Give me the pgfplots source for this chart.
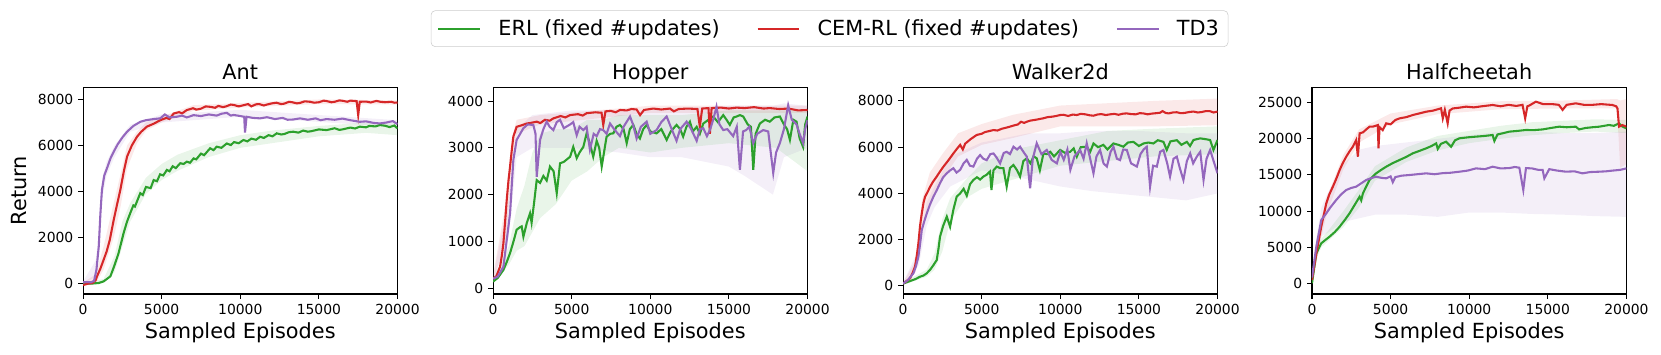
\documentclass[border=0pt]{standalone}
\usepackage{pgfplots}
\usepackage{pgfplotstable}
\pgfplotsset{compat=1.18}
\usepgfplotslibrary{fillbetween}
\usepackage{fontspec}
\setmainfont{DejaVu Sans}
\definecolor{cG}{HTML}{2CA02C}
\definecolor{cR}{HTML}{D62728}
\definecolor{cP}{HTML}{9467BD}

% bands: x lo hi
\pgfplotstableread{
x lo hi
0 -100 50
800 0 400
1300 600 1600
1950 2000 3500
2400 3400 4800
2800 5000 6000
3430 6100 6600
4000 6650 7000
5000 7000 7250
7000 7500 7750
10000 7650 7850
15000 7800 8000
20000 7780 7960
}\antR
\pgfplotstableread{
x lo hi
0 0 100
800 300 1000
1000 1200 2200
1200 3600 4500
1500 4700 5300
2000 5500 6000
3000 6600 6900
5000 7000 7350
10000 7250 7550
20000 6800 7100
}\antP
\pgfplotstableread{
x lo hi
0 0 50
1300 50 200
2000 500 1200
2500 1600 2700
3000 2700 3500
4000 3900 4600
5000 4500 5200
6000 4900 5600
8000 5500 6100
10000 5900 6450
12000 6100 6650
15000 6400 6850
18000 6550 7000
20000 6450 6950
}\antG
\pgfplotstableread{
x lo hi
0 150 280
800 1000 1800
1200 2500 3200
1500 3300 3600
3000 3500 3700
10000 3750 3900
20000 3750 3900
}\hopR
\pgfplotstableread{
x lo hi
0 150 250
1000 1100 1900
1500 2800 3400
2500 3000 3700
5000 3000 3800
8000 2900 3800
10000 2800 3800
12000 2800 3850
15000 2600 3900
16000 2400 3900
17800 2000 3900
18500 2800 3950
20000 3000 3900
}\hopP
\pgfplotstableread{
x lo hi
0 100 200
1000 500 900
1500 800 1700
2000 900 2200
2500 1200 2900
3000 1500 3300
4000 1800 3400
5000 2300 3400
6000 2500 3600
7000 2800 3600
8000 3000 3700
10000 2900 3700
12000 3000 3700
15000 3100 3800
18000 3000 3800
20000 2500 3800
}\hopG
\pgfplotstableread{
x lo hi
0 50 150
800 600 1100
1200 2500 3700
1700 3600 4900
2500 4600 5700
3500 5600 6600
5000 6100 7000
7000 6400 7400
10000 6900 7800
13000 6900 7900
16000 6900 8000
20000 6950 8100
}\walR
\pgfplotstableread{
x lo hi
0 50 150
1000 900 1600
1500 2600 3600
2000 3400 4300
3000 4300 5600
5000 5000 6200
8000 4600 6600
10000 4300 6600
12000 4100 6700
15000 3900 6700
18000 3700 6600
20000 4000 6600
}\walP
\pgfplotstableread{
x lo hi
0 50 150
1500 400 700
2000 700 1400
2500 1500 2900
3000 2800 3800
4000 3800 4600
5000 4200 5300
7000 4600 5900
10000 5200 6300
13000 5400 6700
16000 5600 6800
20000 5700 6900
}\walG
\pgfplotstableread{
x lo hi
0 0 900
300 3000 5000
600 6500 9000
1000 10000 12200
2000 15800 17800
3000 19500 21300
5000 22000 23500
8000 23400 24600
12000 24100 25200
16000 24200 25300
19400 24200 25500
19600 16000 25300
20000 16500 25500
}\hcR
\pgfplotstableread{
x lo hi
0 0 1500
300 3500 6500
600 6500 10500
1000 7000 12500
2000 8500 16500
3000 9000 18500
4000 9500 19000
6000 9500 19500
8000 9200 20000
10000 9800 20500
12000 9800 21000
14000 9600 21000
16000 9500 20800
18000 9300 20800
20000 9200 21000
}\hcP
\pgfplotstableread{
x lo hi
0 0 500
300 3500 5000
600 5000 6200
1000 5800 7200
2000 7800 10000
3000 10500 13000
4000 14200 16200
6000 16800 18800
8000 18400 20400
10000 19400 21100
12000 20000 21800
14000 20500 22300
16000 20800 22500
18000 21000 22700
20000 20800 22600
}\hcG

\pgfplotsset{
  panel/.style={
    scale only axis, width=226.4pt, height=148.7pt, anchor=south west,
    xmin=0, xmax=20000, xtick={0,5000,10000,15000,20000},
    scaled ticks=false,
    /pgf/number format/assume math mode=true,
    /pgf/number format/1000 sep={},
    tick align=outside, major tick length=3.5pt,
    every tick/.style={black, line width=0.8pt},
    axis line style={line width=0.8pt},
    tick label style={font=\fontsize{10}{12}\selectfont},
    every axis title/.style={font=\fontsize{15}{18}\selectfont, at={(0.5,1)}, anchor=base, yshift=6pt},
    xlabel={Sampled Episodes},
    xlabel style={font=\fontsize{15}{18}\selectfont, at={(axis description cs:0.5,-0.215)}, anchor=base},
    ytick pos=left, xtick pos=bottom,
  },
  band/.style={fill=#1, fill opacity=0.1, draw=none, forget plot},
  ln/.style={color=#1, line width=1.5pt},
}

\begin{document}
\begin{tikzpicture}

% ---------------- Ant ----------------
\begin{axis}[panel, at={(59.8pt,43.2pt)}, title={Ant}, ymin=-450, ymax=8520,
  ytick={0,2000,4000,6000,8000},
  ylabel={Return},
  ylabel style={font=\fontsize{15}{18}\selectfont, at={(axis description cs:-0.181,0.5)}, anchor=base},
  legend columns=3, legend cell align=left,
  legend style={at={(axis description cs:2.374,1.285)}, anchor=center,
    font=\fontsize{15}{18}\selectfont, draw=black!20, rounded corners=3pt,
    inner xsep=4.5pt, inner ysep=4.5pt,
    /tikz/every even column/.append style={column sep=24.5pt},
    /tikz/every odd column/.append style={column sep=10.5pt}},
  legend image code/.code={\draw[#1, line width=1.5pt] (0pt,0pt) -- (30pt,0pt);},
]
\addplot[draw=none, name path=aRu, forget plot] table[x=x,y=hi] {\antR};
\addplot[draw=none, name path=aRl, forget plot] table[x=x,y=lo] {\antR};
\addplot[band=cR] fill between[of=aRu and aRl];
\addplot[draw=none, name path=aPu, forget plot] table[x=x,y=hi] {\antP};
\addplot[draw=none, name path=aPl, forget plot] table[x=x,y=lo] {\antP};
\addplot[band=cP] fill between[of=aPu and aPl];
\addplot[draw=none, name path=aGu, forget plot] table[x=x,y=hi] {\antG};
\addplot[draw=none, name path=aGl, forget plot] table[x=x,y=lo] {\antG};
\addplot[band=cG] fill between[of=aGu and aGl];
\addplot[ln=cG] coordinates {(0,0)(500,0)(1000,30)(1310,100)(1740,320)(2000,800)(2260,1330)(2580,2200)(2800,2700)(3000,3060)(3200,3400)(3300,3350)(3640,3930)(3800,3850)(4000,4200)(4300,4150)(4490,4500)(4700,4450)(4900,4750)(5100,4700)(5330,4940)(5500,4880)(5700,5100)(5900,5020)(6180,5230)(6400,5200)(6600,5300)(6800,5250)(7030,5440)(7200,5400)(7500,5650)(7700,5580)(8080,5880)(8300,5800)(8500,5950)(8800,5900)(9140,6090)(9400,6020)(9600,6150)(9900,6100)(10200,6240)(10450,6180)(10700,6300)(11000,6250)(11260,6380)(11500,6330)(11800,6450)(12050,6400)(12320,6530)(12600,6480)(12800,6500)(13100,6580)(13370,6600)(13700,6560)(14000,6650)(14300,6600)(14500,6620)(15000,6700)(15490,6670)(16000,6750)(16300,6680)(16500,6700)(17000,6780)(17300,6740)(17600,6820)(18000,6790)(18200,6850)(18600,6830)(18880,6890)(19200,6860)(19500,6800)(19800,6870)(20000,6740)};
\addlegendentry{ERL (fixed \#updates)}
\addplot[ln=cR] coordinates {(0,-60)(300,0)(600,30)(800,150)(890,320)(1100,650)(1310,1040)(1500,1400)(1700,1900)(1950,2770)(2150,3400)(2370,4070)(2600,4900)(2800,5520)(3100,6000)(3430,6380)(3700,6600)(4060,6820)(4500,6950)(4910,7100)(5300,7200)(5500,7150)(5760,7390)(6100,7450)(6300,7400)(6600,7540)(7000,7620)(7200,7560)(7500,7600)(7800,7700)(8100,7680)(8400,7640)(8600,7720)(8900,7670)(9100,7700)(9400,7780)(9600,7760)(9900,7700)(10200,7750)(10500,7800)(10700,7700)(11000,7790)(11200,7800)(11500,7740)(11700,7780)(12000,7830)(12300,7860)(12600,7800)(12800,7820)(13100,7900)(13300,7880)(13600,7830)(13800,7850)(14100,7920)(14440,7900)(14700,7860)(15000,7880)(15300,7950)(15500,7930)(15800,7880)(16000,7900)(16300,7960)(16550,7940)(16800,7900)(17000,7950)(17400,7930)(17500,7320)(17600,7900)(18000,7910)(18300,7870)(18660,7940)(18900,7900)(19200,7880)(19600,7900)(19800,7860)(20000,7870)};
\addlegendentry{CEM-RL (fixed \#updates)}
\addplot[ln=cP] coordinates {(0,60)(300,70)(500,60)(700,120)(850,600)(1000,1620)(1100,3000)(1200,4070)(1350,4700)(1520,5010)(1750,5450)(1950,5730)(2200,6050)(2500,6350)(2800,6600)(3200,6850)(3640,7030)(4000,7100)(4500,7150)(4910,7180)(5200,7350)(5500,7220)(5970,7250)(6300,7300)(6600,7220)(7030,7320)(7500,7280)(8000,7350)(8500,7300)(8800,7380)(9140,7420)(9400,7300)(9570,7330)(10000,7280)(10250,7250)(10300,6560)(10400,7250)(10800,7200)(11260,7180)(11700,7230)(12200,7150)(12700,7200)(13000,7120)(13370,7130)(13800,7180)(14300,7120)(14800,7180)(15100,7100)(15490,7150)(16000,7120)(16500,7170)(17000,7100)(17600,7030)(18000,7050)(18500,6980)(18880,6960)(19300,7000)(19700,7060)(20000,6930)};
\addlegendentry{TD3}
\end{axis}

% ---------------- Hopper ----------------
\begin{axis}[panel, at={(355pt,43.2pt)}, title={Hopper}, ymin=-125, ymax=4290,
  ytick={0,1000,2000,3000,4000}]
\addplot[draw=none, name path=hRu, forget plot] table[x=x,y=hi] {\hopR};
\addplot[draw=none, name path=hRl, forget plot] table[x=x,y=lo] {\hopR};
\addplot[band=cR] fill between[of=hRu and hRl];
\addplot[draw=none, name path=hPu, forget plot] table[x=x,y=hi] {\hopP};
\addplot[draw=none, name path=hPl, forget plot] table[x=x,y=lo] {\hopP};
\addplot[band=cP] fill between[of=hPu and hPl];
\addplot[draw=none, name path=hGu, forget plot] table[x=x,y=hi] {\hopG};
\addplot[draw=none, name path=hGl, forget plot] table[x=x,y=lo] {\hopG};
\addplot[band=cG] fill between[of=hGu and hGl];
\addplot[ln=cG] coordinates {(0,140)(300,220)(657,390)(870,560)(1080,750)(1300,1000)(1500,1250)(1700,1300)(1820,1320)(1930,1100)(2150,1400)(2350,1600)(2450,1400)(2600,1800)(2775,2310)(2990,2250)(3200,2400)(3410,2300)(3620,2600)(3850,2500)(4050,2030)(4260,2670)(4500,2700)(4900,2810)(5100,3020)(5320,2780)(5500,2900)(5740,3020)(5950,3310)(6150,3100)(6370,2810)(6590,3150)(6750,3000)(6910,2600)(7220,3240)(7450,3300)(7650,3310)(7850,3450)(8070,3490)(8300,3400)(8500,3100)(8700,3400)(8920,3490)(9130,3300)(9340,3200)(9550,3400)(9770,3490)(10000,3350)(10400,3310)(10700,3400)(11040,3170)(11300,3350)(11670,3490)(11900,3400)(12090,3240)(12300,3450)(12520,3560)(12700,3350)(12950,3450)(13150,3300)(13370,3520)(13700,3600)(14000,3670)(14300,3550)(14640,3700)(14850,3600)(15060,3490)(15300,3650)(15490,3670)(15700,3700)(15910,3670)(16200,3500)(16400,3450)(16550,2530)(16700,3300)(16970,3520)(17300,3600)(17600,3560)(17900,3650)(18240,3670)(18500,3500)(18700,3400)(18880,3170)(19100,3600)(19300,3560)(19500,3200)(19720,3020)(19850,3500)(20000,3670)};
\addplot[ln=cR] coordinates {(0,210)(200,250)(445,460)(560,700)(657,960)(760,1400)(870,1890)(980,2300)(1080,2600)(1190,2950)(1290,3240)(1500,3450)(1800,3480)(2140,3520)(2500,3540)(2775,3560)(3000,3530)(3300,3600)(3600,3580)(3835,3630)(4300,3680)(4600,3650)(4900,3700)(5400,3720)(5700,3690)(5950,3740)(6500,3760)(6900,3750)(7010,3490)(7150,3780)(7500,3790)(7800,3760)(8070,3810)(8500,3800)(8800,3830)(9130,3820)(9350,3700)(9600,3810)(10190,3840)(10700,3820)(11250,3840)(11500,3780)(11800,3830)(12400,3840)(13000,3830)(13150,3450)(13300,3840)(13700,3850)(13790,3300)(13900,3850)(14500,3860)(15000,3840)(15490,3860)(16000,3850)(16600,3870)(17200,3840)(17600,3850)(18200,3830)(18800,3840)(19400,3800)(20000,3810)};
\addplot[ln=cP] coordinates {(0,200)(300,250)(657,460)(870,1030)(1080,1600)(1190,2200)(1290,2740)(1500,3170)(1930,3420)(2200,3500)(2560,3490)(2700,3300)(2775,2380)(2990,3170)(3200,3400)(3410,3560)(3600,3450)(3835,3380)(4050,3550)(4260,3600)(4500,3420)(4900,3500)(5100,3550)(5320,3270)(5500,3450)(5740,3380)(5950,3450)(6160,2960)(6400,3300)(6590,3250)(6800,3400)(7010,3380)(7220,3300)(7440,3520)(7700,3400)(8070,3250)(8300,3450)(8710,3670)(8900,3500)(9130,3200)(9400,3450)(9770,3560)(10000,3300)(10400,3380)(10700,3550)(11040,3670)(11300,3450)(11670,3150)(11900,3400)(12310,3560)(12600,3400)(12950,3150)(13150,3400)(13370,3420)(13600,3250)(13790,3380)(14000,3600)(14210,3880)(14400,3500)(14640,3380)(14900,3400)(15270,3250)(15500,3450)(15700,2530)(15900,3350)(16100,3380)(16300,3450)(16550,3100)(16800,3300)(17180,3380)(17500,3350)(17820,2460)(18000,2900)(18240,3100)(18500,3400)(18770,3910)(19000,3600)(19300,3500)(19500,3300)(19720,3100)(19850,3400)(20000,3590)};
\end{axis}

% ---------------- Walker2d ----------------
\begin{axis}[panel, at={(650.2pt,43.2pt)}, title={Walker2d}, ymin=-350, ymax=8580,
  ytick={0,2000,4000,6000,8000}]
\addplot[draw=none, name path=wRu, forget plot] table[x=x,y=hi] {\walR};
\addplot[draw=none, name path=wRl, forget plot] table[x=x,y=lo] {\walR};
\addplot[band=cR] fill between[of=wRu and wRl];
\addplot[draw=none, name path=wPu, forget plot] table[x=x,y=hi] {\walP};
\addplot[draw=none, name path=wPl, forget plot] table[x=x,y=lo] {\walP};
\addplot[band=cP] fill between[of=wPu and wPl];
\addplot[draw=none, name path=wGu, forget plot] table[x=x,y=hi] {\walG};
\addplot[draw=none, name path=wGl, forget plot] table[x=x,y=lo] {\walG};
\addplot[band=cG] fill between[of=wGu and wGl];
\addplot[ln=cG] coordinates {(0,100)(400,200)(800,300)(1080,400)(1300,450)(1510,550)(1720,700)(1930,900)(2140,1120)(2250,1600)(2350,2130)(2550,2600)(2780,3000)(2990,2560)(3200,3300)(3410,3860)(3630,4000)(3850,4200)(4050,3900)(4260,4400)(4470,4580)(4700,4700)(4900,4600)(5110,4730)(5300,4800)(5530,4950)(5620,4150)(5750,5000)(5960,5160)(6150,5100)(6380,5090)(6590,4290)(6800,5100)(7020,5230)(7250,5000)(7440,4730)(7650,5400)(7870,5520)(8100,5300)(8300,5600)(8500,5520)(8700,5000)(8930,5730)(9150,5700)(9360,5800)(9600,5600)(9990,5880)(10300,5750)(10630,5800)(10850,5950)(11050,5590)(11300,6000)(11680,6020)(11900,5800)(12110,6160)(12400,6000)(12740,6100)(13000,5900)(13380,6160)(13700,6100)(14010,6020)(14300,6200)(14650,6230)(15000,6050)(15290,6160)(15600,6200)(15920,6160)(16200,6300)(16560,6230)(16770,5880)(17000,6250)(17410,6300)(17700,6100)(18050,6230)(18250,6050)(18470,6310)(18890,6380)(19200,6350)(19530,6310)(19740,5880)(20000,6310)};
\addplot[ln=cR] coordinates {(0,100)(200,200)(445,330)(600,550)(760,840)(870,1300)(975,1840)(1080,2600)(1190,3140)(1300,3600)(1400,3860)(1550,4050)(1720,4290)(1900,4500)(2140,4730)(2350,4950)(2570,5160)(2900,5450)(3200,5730)(3450,5950)(3630,6100)(3800,5900)(3950,6150)(4300,6350)(4690,6530)(5000,6580)(5200,6650)(5500,6700)(5750,6740)(6000,6720)(6300,6800)(6600,6850)(6810,6890)(7100,6950)(7300,6980)(7500,7100)(7700,7050)(7870,7100)(8100,7150)(8400,7180)(8700,7220)(8930,7250)(9200,7300)(9500,7320)(9750,7350)(9990,7390)(10200,7400)(10500,7350)(10800,7410)(11050,7390)(11300,7440)(11600,7420)(11850,7380)(12110,7360)(12350,7410)(12600,7430)(12900,7390)(13170,7420)(13450,7440)(13700,7400)(14000,7450)(14230,7460)(14500,7430)(14800,7420)(15050,7470)(15290,7460)(15550,7420)(15800,7450)(16100,7470)(16350,7490)(16500,7560)(16700,7480)(16900,7460)(17150,7500)(17410,7510)(17650,7470)(17900,7480)(18200,7520)(18470,7540)(18750,7500)(19000,7520)(19250,7560)(19500,7560)(19750,7500)(20000,7540)};
\addplot[ln=cP] coordinates {(0,100)(300,250)(660,550)(820,850)(975,1270)(1080,1800)(1190,2420)(1350,2800)(1510,3140)(1700,3500)(1930,3860)(2150,4150)(2350,4440)(2550,4700)(2780,4870)(3000,5000)(3200,5090)(3400,4900)(3630,5020)(3850,5300)(4050,5450)(4250,5200)(4470,5160)(4700,5500)(4900,5660)(5100,5500)(5320,5440)(5550,5700)(5750,5730)(5950,5550)(6170,5300)(6400,5750)(6590,5800)(6800,5700)(7020,6020)(7250,5900)(7440,6020)(7650,5800)(7870,5590)(8080,4220)(8250,5500)(8500,6170)(8800,5700)(9140,5880)(9450,5450)(9780,5300)(10000,5800)(10220,5450)(10450,5900)(10640,5020)(10900,5600)(11260,5880)(11480,5500)(11680,6170)(11900,5500)(12110,4870)(12300,5600)(12530,5880)(12750,5300)(12960,5160)(13200,5800)(13380,6020)(13600,5500)(13800,5440)(14000,5900)(14230,5880)(14500,5300)(14870,5160)(15100,5700)(15300,5900)(15500,6020)(15710,4290)(15900,5200)(16140,5160)(16350,5800)(16560,5880)(16800,5300)(16980,4730)(17200,5500)(17410,5590)(17600,5100)(17830,4580)(18050,5400)(18260,5730)(18450,5300)(18680,5590)(18900,5800)(19110,4580)(19300,5500)(19530,5880)(19750,5400)(20000,4870)};
\end{axis}

% ---------------- Halfcheetah ----------------
\begin{axis}[panel, at={(944.6pt,43.2pt)}, title={Halfcheetah}, ymin=-1480, ymax=27100,
  ytick={0,5000,10000,15000,20000,25000}]
\addplot[draw=none, name path=cRu, forget plot] table[x=x,y=hi] {\hcR};
\addplot[draw=none, name path=cRl, forget plot] table[x=x,y=lo] {\hcR};
\addplot[band=cR] fill between[of=cRu and cRl];
\addplot[draw=none, name path=cPu, forget plot] table[x=x,y=hi] {\hcP};
\addplot[draw=none, name path=cPl, forget plot] table[x=x,y=lo] {\hcP};
\addplot[band=cP] fill between[of=cPu and cPl];
\addplot[draw=none, name path=cGu, forget plot] table[x=x,y=hi] {\hcG};
\addplot[draw=none, name path=cGl, forget plot] table[x=x,y=lo] {\hcG};
\addplot[band=cG] fill between[of=cGu and cGl];
\addplot[ln=cG] coordinates {(0,0)(275,4150)(590,5540)(850,6000)(1120,6460)(1450,7100)(1760,7840)(2100,8800)(2390,9690)(2700,10800)(3030,11990)(3130,11500)(3240,12450)(3450,13400)(3660,14300)(3870,14800)(4080,15220)(4400,15700)(4720,16140)(5100,16600)(5570,17070)(6000,17500)(6410,17990)(6800,18300)(7260,18680)(7600,19000)(7900,19370)(8000,18600)(8200,19300)(8530,19600)(8850,18900)(9100,19800)(9380,20070)(9900,20200)(10430,20300)(11000,20400)(11490,20530)(11600,19700)(11800,20600)(12200,20800)(12550,20990)(13100,21100)(13610,21220)(14100,21200)(14670,21300)(15200,21500)(15720,21680)(16200,21600)(16780,21680)(16990,21300)(17400,21500)(17840,21600)(18270,21680)(18890,21910)(19200,21800)(19530,22140)(19740,21700)(20000,21450)};
\addplot[ln=cR] coordinates {(0,460)(275,4150)(590,7840)(910,11070)(1100,12300)(1330,13380)(1550,14500)(1760,15680)(1950,16600)(2180,17530)(2400,18300)(2600,18910)(2810,19830)(2920,17530)(3030,20760)(3250,20900)(3450,21300)(3660,21680)(3900,21700)(4190,21900)(4230,18680)(4300,21600)(4500,21200)(4720,22140)(5000,22000)(5300,22600)(5570,22830)(6000,23000)(6410,23290)(6800,23500)(7260,23750)(7700,23900)(8210,24220)(8320,22830)(8450,24000)(8630,22140)(8750,23900)(8950,24200)(9350,24300)(9800,24450)(10300,24350)(10800,24500)(11490,24680)(12000,24500)(12500,24700)(13000,24550)(13390,24700)(13560,22830)(13700,24500)(13820,24600)(14240,25140)(14700,24800)(15300,24800)(15700,24700)(15940,24000)(16200,24700)(16780,24910)(17300,24700)(17840,24700)(18400,24800)(19110,24680)(19350,24500)(19430,24200)(19530,21680)(19740,21900)(20000,21680)};
\addplot[ln=cP] coordinates {(0,800)(275,5070)(590,8760)(910,9690)(1200,10600)(1540,11530)(1850,12300)(2180,12920)(2500,13200)(2810,13380)(3100,13800)(3450,14300)(3750,14550)(4080,14760)(4400,14600)(4720,14530)(5000,14800)(5140,14000)(5300,14700)(5700,14900)(6200,14990)(6700,15100)(7260,15220)(7800,15100)(8320,15250)(8800,15300)(9380,15450)(9900,15600)(10430,15910)(11000,15800)(11490,16140)(12000,15900)(12550,15950)(12900,16100)(13190,16000)(13440,12920)(13610,15950)(14000,15900)(14400,15700)(14670,15700)(14780,14530)(15090,15800)(15600,15600)(16150,15450)(16700,15500)(17200,15220)(17700,15400)(18270,15450)(18700,15500)(19110,15600)(19600,15700)(20000,15910)};
\end{axis}
\path (0,0) rectangle (1195.9pt,254.9pt);
\end{tikzpicture}
\end{document}
